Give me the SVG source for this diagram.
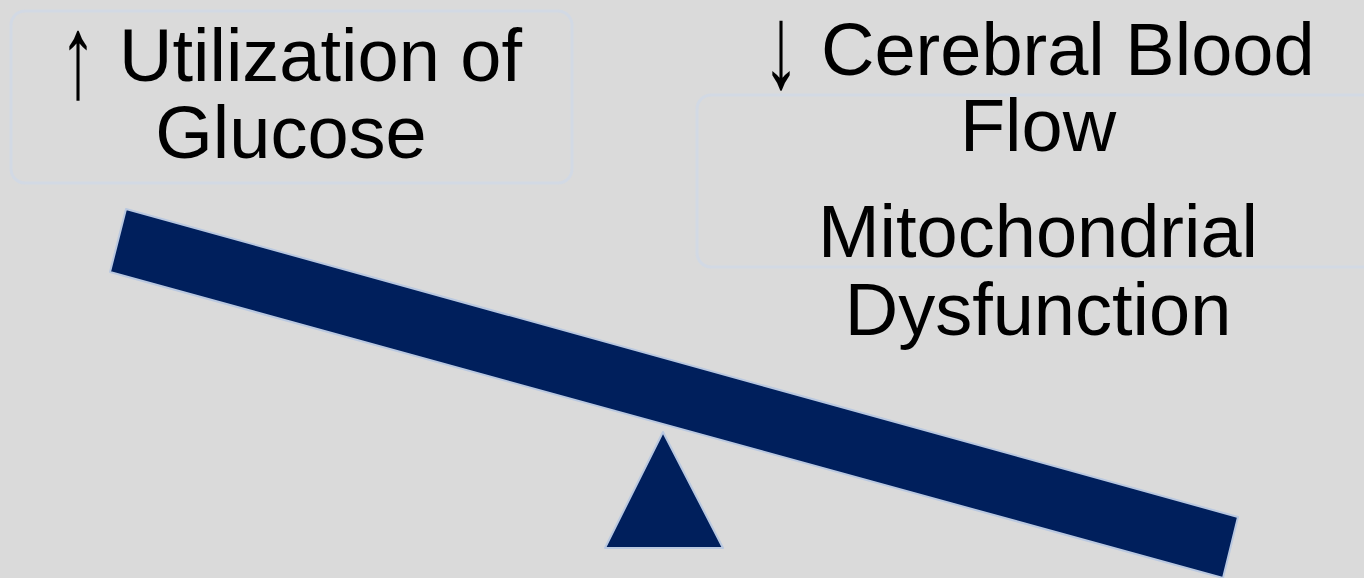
<svg xmlns="http://www.w3.org/2000/svg" width="1364" height="578" viewBox="0 0 1364 578">
<style>
.box{fill:none;stroke:#d2d9e4;stroke-width:3}
.t{font-family:"Liberation Sans",Arial,sans-serif;font-size:74px;fill:#000;text-anchor:middle}
.s{text-anchor:start}
.ar{font-family:"Liberation Serif","Times New Roman",serif;font-size:74px;fill:#000;text-anchor:middle}
.dark{fill:#001f5c;stroke:#b9c8e0;stroke-width:2;stroke-linejoin:round}
</style>
<rect width="1364" height="578" fill="#dadada"/>
<g id="beam"><polygon class="dark" points="126,209 1238,517 1223,578 110,272"/></g>
<g id="fulcrum"><polygon class="dark" points="663,432 723,548 605,548"/></g>
<g id="left-box">
<rect class="box" x="11" y="11" width="561" height="172" rx="14"/>
<text class="ar" transform="translate(78,97) scale(1,1.6)">↑</text>
<text class="t s" x="119" y="81">Utilization of</text>
<text class="t" x="291" y="158">Glucose</text>
</g>
<g id="right-box">
<rect class="box" x="697" y="95" width="680" height="172" rx="14"/>
<text class="ar" transform="translate(781,87) scale(1,1.6)">↓</text>
<text class="t s" x="821" y="75">Cerebral Blood</text>
<text class="t" x="1038" y="151">Flow</text>
<text class="t" x="1038" y="257">Mitochondrial</text>
<text class="t" x="1038" y="335">Dysfunction</text>
</g>
<g id="connectors"/>
</svg>
